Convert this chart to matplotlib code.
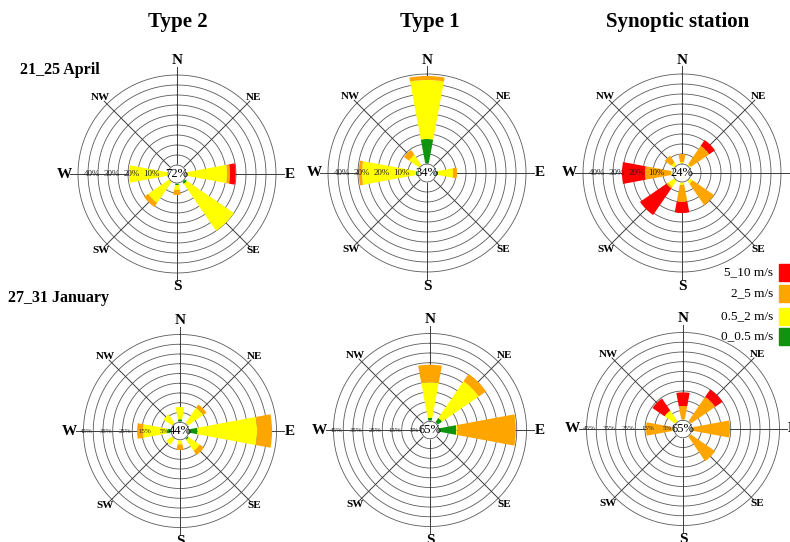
import numpy as np
import matplotlib.pyplot as plt

plt.rcParams['font.family'] = ['Liberation Serif', 'DejaVu Serif']

directions = ['N', 'NE', 'E', 'SE', 'S', 'SW', 'W', 'NW']
dir_angles = np.deg2rad(np.arange(0, 360, 45))
speed_labels = ['0_0.5 m/s', '0.5_2 m/s', '2_5 m/s', '5_10 m/s']
speed_colors = ['#0f9410', '#ffff00', '#ffa500', '#ff0000']

# frequency (%) per direction, one row per speed class (0_0.5, 0.5_2, 2_5, 5_10)
april_type2 = [
    [0, 0, 0.5, 1.5, 1, 0, 0, 0],
    [0, 0, 20, 28.5, 2.5, 13, 19.5, 0],
    [0, 0, 1.5, 0, 2.5, 2.5, 0, 0],
    [0, 0, 2.8, 0, 0, 0, 0, 0],
]
april_type1 = [
    [12.5, 0, 1, 0, 0, 0, 1, 0],
    [29.5, 0, 7.5, 0, 0, 0, 27, 6.5],
    [2, 0, 2, 0, 0, 0, 1.6, 3],
    [0, 0, 0, 0, 0, 0, 0, 0],
]
april_synoptic = [
    [0, 0, 0, 0, 0, 0, 0, 0],
    [1, 1, 0, 2, 1.5, 4, 1, 2],
    [4, 11, 0, 13, 8.5, 1, 13, 4],
    [0, 3.5, 0, 0, 5.5, 16, 11.5, 0],
]
january_type2 = [
    [1.5, 0.5, 4.5, 1, 0, 0.5, 2, 0.5],
    [6.3, 9.5, 30.5, 6.8, 2.5, 3.7, 12.5, 5.3],
    [0, 2, 7.7, 2.6, 2.7, 0, 3, 0],
    [0, 0, 0, 0, 0, 0, 0, 0],
]
january_type1 = [
    [1.7, 3, 9, 0, 0, 0, 0, 0],
    [18.3, 22.8, 0.5, 0, 0, 0, 0, 0],
    [9, 4.6, 30, 0, 0, 0, 0, 0],
    [0, 0, 0, 0, 0, 0, 0, 0],
]
january_synoptic = [
    [0, 0, 0, 0, 0, 0, 0, 0],
    [0.5, 0.5, 0, 0, 0, 0, 1, 7],
    [6.8, 15, 19.6, 15.5, 0, 0, 13.5, 0],
    [7, 4.6, 0, 0, 0, 0, 0, 7.5],
]

calm_pct = [72, 34, 24, 44, 65, 65]
column_titles = ['Type 2', 'Type 1', 'Synoptic station']
row_titles = ['21_25 April', '27_31 January']
ring_pct_april = [10, 20, 30, 40]
ring_pct_january = [5, 15, 25, 35, 45]

roses = [april_type2, april_type1, april_synoptic,
         january_type2, january_type1, january_synoptic]

W, H = 790, 542
fig = plt.figure(figsize=(W / 100, H / 100), dpi=100)

calm_r = 4.5      # radius of calm circle in % units
rmax = 58
centers = [(177, 174), (427, 173), (682, 173), (180, 431), (430, 430), (683, 429)]
scales = [2.0, 2.0, 2.0, 1.95, 1.95, 1.95]   # pixels per % unit

theta = np.linspace(0, 2 * np.pi, 361)
width = np.deg2rad(21)

for i, (data, (cx, cy), sc) in enumerate(zip(roses, centers, scales)):
    R = rmax * sc
    ax = fig.add_axes([(cx - R) / W, 1 - (cy + R) / H, 2 * R / W, 2 * R / H],
                      projection='polar')
    ax.set_theta_zero_location('N')
    ax.set_theta_direction(-1)
    ax.set_ylim(0, rmax)
    ax.axis('off')

    # rings every 5 %
    for k in range(1, 10):
        ax.plot(theta, np.full_like(theta, calm_r + 5 * k), color='#5a5a5a', lw=0.6, zorder=1)
    # direction spokes
    for j, a in enumerate(dir_angles):
        end = 53.5 if j % 2 == 0 else 51.5
        ax.plot([a, a], [calm_r, end], color='#3c3c3c', lw=0.7, zorder=1)

    # stacked petals
    bottom = np.full(8, calm_r)
    for vals, col in zip(data, speed_colors):
        vals = np.array(vals, dtype=float)
        ax.bar(dir_angles, vals, width=width, bottom=bottom, color=col,
               edgecolor='none', zorder=2)
        bottom = bottom + vals

    # calm circle
    ax.fill(theta, np.full_like(theta, calm_r), color='white', zorder=3)
    ax.plot(theta, np.full_like(theta, calm_r), color='#5a5a5a', lw=0.6, zorder=3)
    ax.text(0, 0, f'{calm_pct[i]}%', ha='center', va='center', fontsize=9, zorder=4)

    # ring labels along the W axis
    if i < 3:
        rings, off, fs = ring_pct_april, 1.8, 6.5
    else:
        rings, off, fs = ring_pct_january, 1.5, 5
    for p in rings:
        ax.text(np.deg2rad(270), calm_r + p - off, f'{p}%', ha='center', va='center',
                fontsize=fs, color='#222222', zorder=4)

    # direction labels (the one past the right edge is skipped)
    for j, (a, name) in enumerate(zip(dir_angles, directions)):
        if i == 2 and name == 'E':
            continue
        if j % 2 == 0:
            ax.text(a, 56.5, name, ha='center', va='center', fontsize=11,
                    fontweight='bold', clip_on=False)
        else:
            ax.text(a, 54, name, ha='center', va='center', fontsize=8,
                    fontweight='bold', clip_on=False)

# column and row titles
for name, x in zip(column_titles, [178, 430, 678]):
    fig.text(x / W, 1 - 22 / H, name, ha='center', va='center', fontsize=15, fontweight='bold')
fig.text(20 / W, 1 - 70 / H, row_titles[0], ha='left', va='center', fontsize=11.5, fontweight='bold')
fig.text(8 / W, 1 - 298 / H, row_titles[1], ha='left', va='center', fontsize=11.5, fontweight='bold')

# legend
legend_y = [272, 293, 316, 336]
for lab, col, y in zip(speed_labels[::-1], speed_colors[::-1], legend_y):
    fig.text(773 / W, 1 - y / H, lab, ha='right', va='center', fontsize=9.5)
    fig.patches.append(plt.Rectangle((779 / W, 1 - (y + 9) / H), 14 / W, 17 / H,
                                     transform=fig.transFigure, color=col, figure=fig))

fig.savefig('out.png', dpi=100)
